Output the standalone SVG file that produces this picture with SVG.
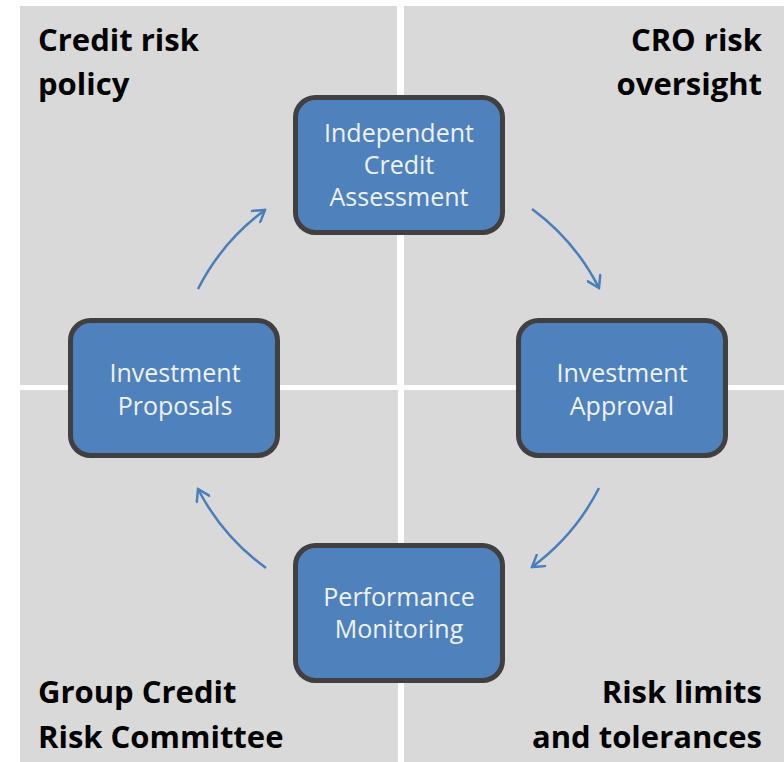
<svg xmlns="http://www.w3.org/2000/svg" width="784" height="762" viewBox="0 0 784 762">
  <style>
    .quad { fill: #d9d9d9; }
    .qlabel { font-family: "Open Sans", "Liberation Sans", sans-serif; font-weight: bold; font-size: 31px; fill: #000; }
    .box { fill: #4f81bd; stroke: #404040; stroke-width: 5; }
    .btext { font-family: "Open Sans", "Liberation Sans", sans-serif; font-size: 25px; fill: #eef2fa; text-anchor: middle; }
    .conn { fill: none; stroke: #4a7ebb; stroke-width: 2.5; marker-end: url(#head); }
  </style>
  <defs>
    <marker id="head" markerUnits="userSpaceOnUse" markerWidth="16" markerHeight="16" viewBox="0 0 16 16" refX="14" refY="8" orient="auto">
      <path d="M3,1 L14,8 L3,15" fill="none" stroke="#4a7ebb" stroke-width="2.5" stroke-linecap="round" stroke-linejoin="miter"/>
    </marker>
  </defs>

  <rect width="784" height="762" fill="#ffffff"/>

  <!-- quadrants -->
  <g id="quadrants">
    <rect class="quad" x="20" y="6" width="377" height="379"/>
    <rect class="quad" x="404" y="6" width="380" height="379"/>
    <rect class="quad" x="20" y="390" width="378" height="372"/>
    <rect class="quad" x="404" y="390" width="380" height="372"/>
  </g>

  <g id="label-policy">
    <text class="qlabel" x="38" y="51">Credit risk</text>
    <text class="qlabel" x="38" y="95">policy</text>
  </g>
  <g id="label-oversight">
    <text class="qlabel" x="762" y="51" text-anchor="end">CRO risk</text>
    <text class="qlabel" x="762" y="95" text-anchor="end">oversight</text>
  </g>
  <g id="label-committee">
    <text class="qlabel" x="38" y="703">Group Credit</text>
    <text class="qlabel" x="38" y="748">Risk Committee</text>
  </g>
  <g id="label-limits">
    <text class="qlabel" x="762" y="703" text-anchor="end">Risk limits</text>
    <text class="qlabel" x="762" y="748" text-anchor="end">and tolerances</text>
  </g>

  <!-- cycle connectors -->
  <g id="connectors">
    <path class="conn" d="M198,289 A224,224 0 0 1 265,210"/>
    <path class="conn" d="M532,209 A224,224 0 0 1 599,288"/>
    <path class="conn" d="M599,488 A224,224 0 0 1 532,567"/>
    <path class="conn" d="M266,568 A224,224 0 0 1 198,489"/>
  </g>

  <g id="node-assessment">
    <rect class="box" x="295.5" y="97.5" width="207" height="135" rx="20"/>
    <text class="btext" x="399" y="142">Independent</text>
    <text class="btext" x="399" y="174">Credit</text>
    <text class="btext" x="399" y="206">Assessment</text>
  </g>
  <g id="node-approval">
    <rect class="box" x="518.5" y="320.5" width="207" height="135" rx="20"/>
    <text class="btext" x="622" y="382">Investment</text>
    <text class="btext" x="622" y="415">Approval</text>
  </g>
  <g id="node-monitoring">
    <rect class="box" x="295.5" y="545.5" width="207" height="135" rx="20"/>
    <text class="btext" x="399" y="606">Performance</text>
    <text class="btext" x="399" y="638">Monitoring</text>
  </g>
  <g id="node-proposals">
    <rect class="box" x="70.5" y="320.5" width="207" height="135" rx="20"/>
    <text class="btext" x="175" y="382">Investment</text>
    <text class="btext" x="175" y="415">Proposals</text>
  </g>
</svg>
